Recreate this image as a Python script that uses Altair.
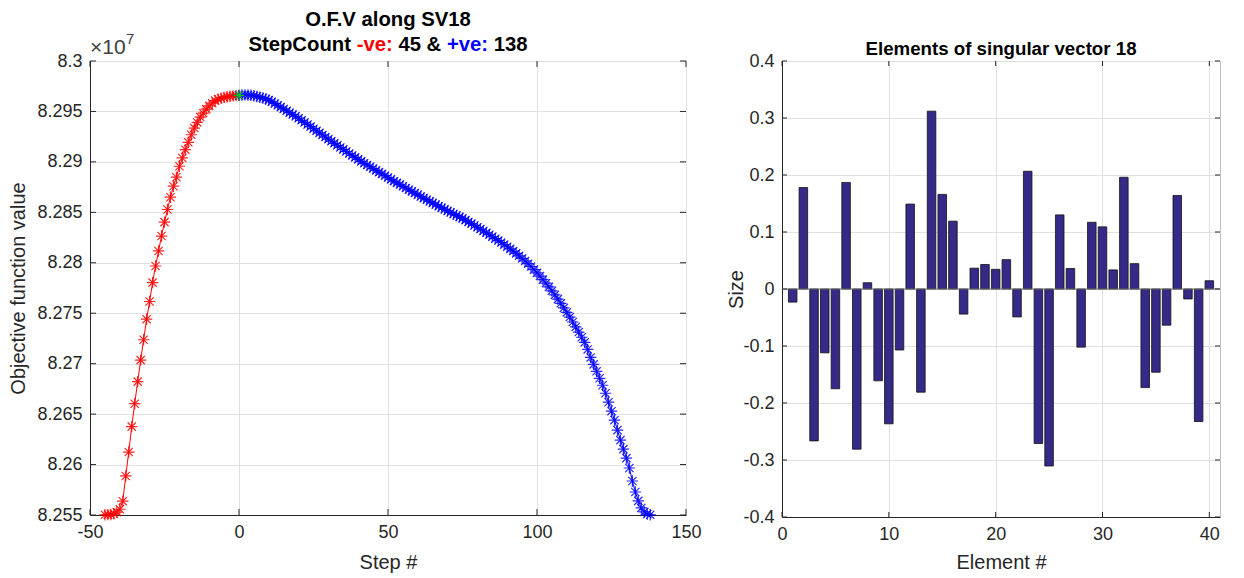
import altair as alt
import pandas as pd

# ---------------- data ----------------
red_steps = list(range(-45, 1))
red_ofv = [8.25502, 8.25504, 8.25505, 8.25512, 8.25528, 8.25557,
           8.25637, 8.25887, 8.26124, 8.26376, 8.26603, 8.26822, 8.27035, 8.27237, 8.27441, 8.27616,
           8.27803, 8.27968, 8.28117, 8.28265, 8.28403, 8.28528, 8.28650, 8.28759, 8.28848, 8.28957,
           8.29039, 8.29121, 8.29194, 8.29269, 8.29335, 8.29391, 8.29444, 8.29483, 8.29523, 8.29555,
           8.29582, 8.29607, 8.29622, 8.29631, 8.29639, 8.29645, 8.29650, 8.29654, 8.29657, 8.29659]

blue_steps = list(range(0, 139))
blue_ofv = [8.29659, 8.29663, 8.29664, 8.29663, 8.29661, 8.29655, 8.29648, 8.29641, 8.29633, 8.29624,
            8.29612, 8.29596, 8.29579, 8.29561, 8.29543, 8.29525, 8.29506, 8.29488, 8.29469, 8.29452,
            8.29433, 8.29412, 8.29391, 8.29371, 8.29350, 8.29329, 8.29308, 8.29288, 8.29267, 8.29246,
            8.29225, 8.29205, 8.29184, 8.29164, 8.29143, 8.29124, 8.29103, 8.29083, 8.29064, 8.29045,
            8.29025, 8.29005, 8.28986, 8.28969, 8.28952, 8.28934, 8.28916, 8.28898, 8.28881, 8.28863,
            8.28845, 8.28827, 8.28809, 8.28792, 8.28775, 8.28758, 8.28741, 8.28724, 8.28708, 8.28691,
            8.28674, 8.28657, 8.28641, 8.28625, 8.28609, 8.28593, 8.28577, 8.28561, 8.28546, 8.28530,
            8.28514, 8.28499, 8.28484, 8.28469, 8.28455, 8.28440, 8.28423, 8.28405, 8.28388, 8.28370,
            8.28352, 8.28334, 8.28315, 8.28297, 8.28278, 8.28259, 8.28239, 8.28220, 8.28201, 8.28180,
            8.28159, 8.28138, 8.28116, 8.28093, 8.28069, 8.28044, 8.28018, 8.27991, 8.27963, 8.27932,
            8.27900, 8.27868, 8.27833, 8.27798, 8.27761, 8.27722, 8.27682, 8.27640, 8.27598, 8.27553,
            8.27508, 8.27462, 8.27413, 8.27364, 8.27313, 8.27262, 8.27211, 8.27141, 8.27062, 8.26993,
            8.26924, 8.26855, 8.26786, 8.26707, 8.26618, 8.26529, 8.26440, 8.26341, 8.26242, 8.26153,
            8.26064, 8.25966, 8.25837, 8.25728, 8.25640, 8.25570, 8.25531, 8.25509, 8.25502]

start_steps = [0]
start_ofv = [8.29659]

elements = list(range(1, 41))
sizes = [-0.023, 0.178, -0.2665, -0.112, -0.175, 0.187, -0.281, 0.011, -0.161, -0.2365,
         -0.107, 0.149, -0.181, 0.312, 0.166, 0.119, -0.044, 0.0365, 0.043, 0.0345,
         0.0515, -0.049, 0.2065, -0.271, -0.3105, 0.130, 0.036, -0.102, 0.117, 0.109,
         0.0335, 0.196, 0.0445, -0.173, -0.146, -0.0635, 0.164, -0.0175, -0.2325, 0.0145]

left_xticks = [-50, 0, 50, 100, 150]
left_yticks = [8.255, 8.26, 8.265, 8.27, 8.275, 8.28, 8.285, 8.29, 8.295, 8.3]
right_xticks = [0, 10, 20, 30, 40]
right_yticks = [-0.4, -0.3, -0.2, -0.1, 0, 0.1, 0.2, 0.3, 0.4]
baseline_value = [0]

# ---------------- style ----------------
FONT = "Liberation Sans"
STAR = "M-1,0L1,0M0,-1L0,1M-0.72,-0.72L0.72,0.72M-0.72,0.72L0.72,-0.72"
TOP = 60
LW, LH = 596, 454
RW, RH = 438, 456
TICK = "#262626"
one = pd.DataFrame({"d": [0]})


def txt(s, x, y, size, color="black", weight="normal", align="left"):
    return alt.Chart(one).mark_text(
        text=s, font=FONT, fontSize=size, fontWeight=weight, color=color,
        align=align, baseline="alphabetic"
    ).encode(x=alt.value(x), y=alt.value(y))


# ---------------- left panel ----------------
xL = alt.X("step:Q", scale=alt.Scale(domain=[-50, 150], nice=False, zero=False),
           axis=alt.Axis(values=left_xticks, title="Step #", grid=True, labelFlush=False,
                         labelExpr="datum.value < 0 ? '-' + format(-datum.value, 'd') : format(datum.value, 'd')",
                         titleY=53, titleBaseline="alphabetic"))
yL = alt.Y("ofv:Q", scale=alt.Scale(domain=[8.255, 8.3], nice=False, zero=False),
           axis=alt.Axis(values=left_yticks, title="Objective function value", grid=True,
                         labelExpr="format(datum.value, '.3~f')",
                         titleAngle=270, titleX=-72, titleY=LH / 2,
                         titleBaseline="middle", titleAlign="center"))

red_df = pd.DataFrame({"step": red_steps, "ofv": red_ofv})
blue_df = pd.DataFrame({"step": blue_steps, "ofv": blue_ofv})
start_df = pd.DataFrame({"step": start_steps, "ofv": start_ofv})

red_line = alt.Chart(red_df).mark_line(color="#ff0000", strokeWidth=1).encode(x=xL, y=yL)
red_pts = alt.Chart(red_df).mark_point(shape=STAR, filled=False, color="#ff0000", size=130,
                                       strokeWidth=1.2, opacity=0.85).encode(x=xL, y=yL)
blue_line = alt.Chart(blue_df).mark_line(color="#0000ff", strokeWidth=1).encode(x=xL, y=yL)
blue_pts = alt.Chart(blue_df).mark_point(shape=STAR, filled=False, color="#0000ff", size=130,
                                         strokeWidth=1.2, opacity=0.85).encode(x=xL, y=yL)
green_pt = alt.Chart(start_df).mark_point(shape=STAR, filled=False, color="#00dd00", size=110,
                                          strokeWidth=1.1, opacity=0.9).encode(x=xL, y=yL)

lxt = pd.DataFrame({"step": left_xticks})
lyt = pd.DataFrame({"ofv": left_yticks})
lt1 = alt.Chart(lxt).mark_rule(color=TICK).encode(x=xL, y=alt.value(LH), y2=alt.value(LH - 6))
lt2 = alt.Chart(lxt).mark_rule(color=TICK).encode(x=xL, y=alt.value(0), y2=alt.value(6))
lt3 = alt.Chart(lyt).mark_rule(color=TICK).encode(y=yL, x=alt.value(0), x2=alt.value(6))
lt4 = alt.Chart(lyt).mark_rule(color=TICK).encode(y=yL, x=alt.value(LW), x2=alt.value(LW - 6))

lpad = alt.Chart(one).mark_rule(color="white", strokeWidth=1).encode(
    x=alt.value(-89), x2=alt.value(LW + 20), y=alt.value(-TOP))

TS = 20.3
f = TS / 1000.0
s0 = LW / 2 - 13754 * f / 2
left_texts = [
    txt("O.F.V along SV18", LW / 2, -35, TS, weight="bold", align="center"),
    txt("StepCount", s0, -10, TS, weight="bold"),
    txt("-ve:", s0 + 5333 * f, -10, TS, color="#ff0000", weight="bold"),
    txt("45 &", s0 + 7389 * f, -10, TS, weight="bold"),
    txt("+ve:", s0 + 9779 * f, -10, TS, color="#0000ff", weight="bold"),
    txt("138", s0 + 12086 * f, -10, TS, weight="bold"),
    txt("\u00d710", 0, -7, 21, color="#404040"),
    txt("7", 36, -17, 15, color="#404040"),
]

left = alt.layer(lpad, red_line, red_pts, blue_line, blue_pts, green_pt,
                 lt1, lt2, lt3, lt4, *left_texts).properties(width=LW, height=LH)

# ---------------- right panel ----------------
xR = alt.X("lo:Q", scale=alt.Scale(domain=[0, 41], nice=False, zero=False),
           axis=alt.Axis(values=right_xticks, title="Element #", grid=True, format="d",
                         labelFlush=False, titleY=51, titleBaseline="alphabetic"))
yR = alt.Y("size:Q", scale=alt.Scale(domain=[-0.4, 0.4], nice=False),
           axis=alt.Axis(values=right_yticks, title="Size", grid=True,
                         labelExpr="datum.value < 0 ? '-' + format(-datum.value, '.1f') : (datum.value == 0 ? '0' : format(datum.value, '.1f'))",
                         titleAngle=270, titleX=-46, titleY=RH / 2,
                         titleBaseline="middle", titleAlign="center"))

bar_df = pd.DataFrame({"element": elements, "size": sizes})
bars = alt.Chart(bar_df).transform_calculate(
    lo="datum.element - 0.4", hi="datum.element + 0.4"
).mark_bar(color="#352a87", stroke="#111111", strokeWidth=0.8).encode(
    x=xR, x2="hi:Q", y=yR, y2=alt.datum(0))

base = alt.Chart(pd.DataFrame({"size": baseline_value})).mark_rule(color="#707070").encode(
    y=yR, x=alt.value(0), x2=alt.value(RW))

rxt = pd.DataFrame({"lo": right_xticks})
ryt = pd.DataFrame({"size": right_yticks})
rt1 = alt.Chart(rxt).mark_rule(color=TICK).encode(x=xR, y=alt.value(RH), y2=alt.value(RH - 5))
rt2 = alt.Chart(rxt).mark_rule(color=TICK).encode(x=xR, y=alt.value(0), y2=alt.value(5))
rt3 = alt.Chart(ryt).mark_rule(color=TICK).encode(y=yR, x=alt.value(0), x2=alt.value(5))
rt4 = alt.Chart(ryt).mark_rule(color=TICK).encode(y=yR, x=alt.value(RW), x2=alt.value(RW - 5))

rpad = alt.Chart(one).mark_rule(color="white", strokeWidth=1).encode(
    x=alt.value(-60), x2=alt.value(RW), y=alt.value(-TOP))

rtitle = txt("Elements of singular vector 18", RW / 2, -6, 18.7, weight="bold", align="center")

right = alt.layer(rpad, bars, base, rt1, rt2, rt3, rt4, rtitle).properties(width=RW, height=RH)

chart = alt.hconcat(left, right, spacing=14, bounds="full").properties(
    padding=0
).configure_view(
    stroke="#bfbfbf", strokeWidth=1
).configure_axis(
    labelFont=FONT, labelFontSize=18, labelColor="#262626", labelPadding=8,
    titleFont=FONT, titleFontSize=20, titleFontWeight="normal", titleColor="#262626",
    gridColor="#e0e0e0", gridWidth=1, domainColor="#262626", domainWidth=1, ticks=False
)

chart.save("out.html", embed_options={"renderer": "svg", "actions": False})
